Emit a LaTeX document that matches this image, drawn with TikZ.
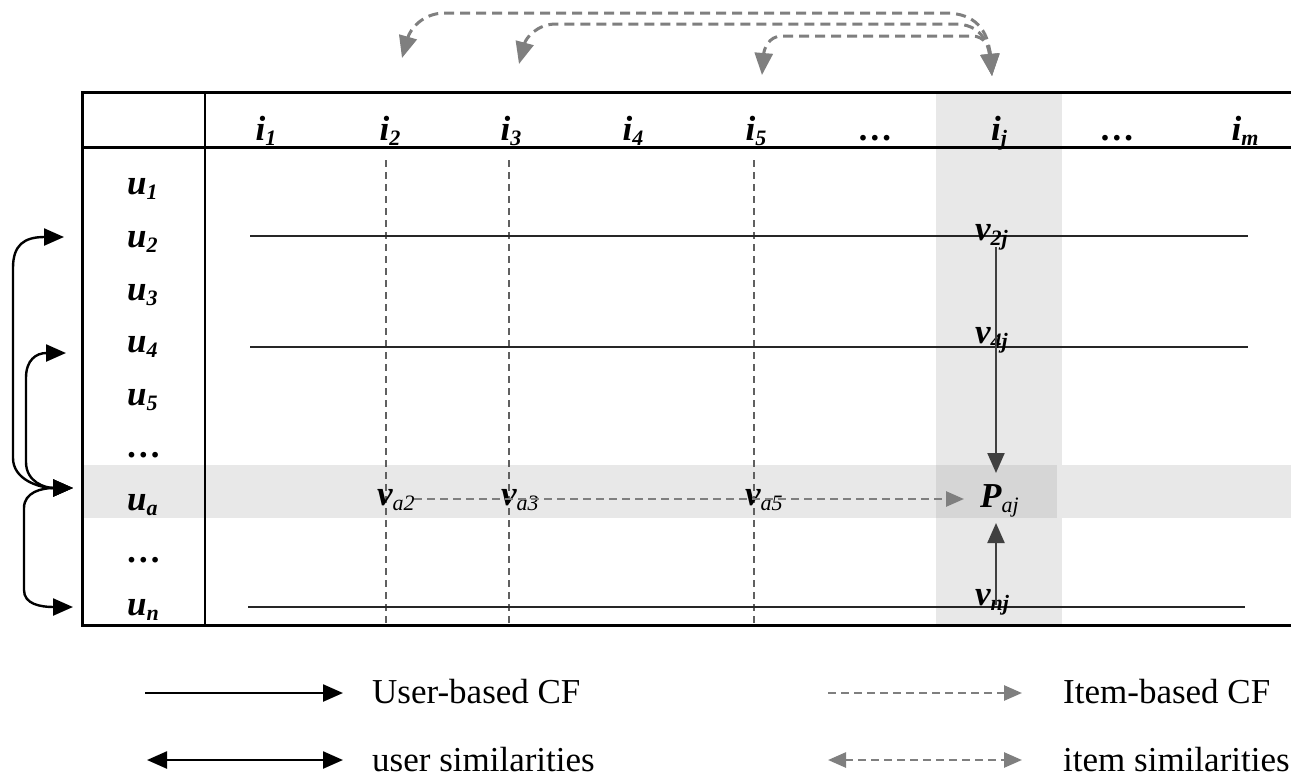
\documentclass[tikz,border=0pt]{standalone}
\usepackage{fontspec}
\setmainfont{Liberation Serif}
\usetikzlibrary{arrows.meta}

\definecolor{hl}{HTML}{E8E8E8}
\definecolor{hlx}{HTML}{D6D6D6}
\definecolor{simgray}{HTML}{7F7F7F}
\definecolor{gridgray}{HTML}{606060}
\definecolor{flowdark}{HTML}{404040}

% lowered, smaller index text
\newcommand{\lsub}[1]{\raisebox{-5pt}{\fontsize{22}{22}\selectfont #1}}

\tikzset{
  lbl/.style={font=\fontsize{35}{37}\selectfont\bfseries\itshape, inner sep=0pt, anchor=base},
  rowlbl/.style={lbl, anchor=base west},
  leg/.style={font=\fontsize{35}{38}\selectfont, inner sep=0pt, anchor=base west},
  frame/.style={line width=3pt, black},
  rowline/.style={line width=2.2pt, black!85},
  colline/.style={line width=1.4pt, gridgray, dash pattern=on 7pt off 5pt},
  bigtip/.style={Triangle[length=20pt,width=17pt]},
  usertip/.style={-{Triangle[length=20pt,width=17pt]}},
  userflow/.style={line width=2.2pt, flowdark, -{Triangle[length=20pt,width=17pt]}},
  usersim/.style={line width=2.4pt, black, {Triangle[length=20pt,width=17pt]}-{Triangle[length=20pt,width=17pt]}},
  itemflow/.style={line width=2.6pt, simgray, dash pattern=on 8pt off 5pt, -{Triangle[length=18pt,width=15pt]}},
  itemsim/.style={line width=3pt, simgray, dash pattern=on 10pt off 6pt, {Triangle[length=22pt,width=18pt]}-{Triangle[length=22pt,width=18pt]}},
}

\begin{document}
\begin{tikzpicture}[x=1pt,y=-1pt]
\useasboundingbox (0,0) rectangle (1291,777);

% highlighted target column and active user row
\fill[hl] (936,92) rectangle (1062,625);
\fill[hl] (82,465) rectangle (1291,518);
\fill[hlx] (936,465) rectangle (1057,518);

% rating matrix frame
\draw[frame] (1291,92) -- (82,92) -- (82,625) -- (1291,625);
\draw[frame] (82,147) -- (1291,147);
\draw[line width=2.4pt] (205,92) -- (205,625);

% item columns used by item-based CF
\draw[colline] (386,160) -- (386,625);
\draw[colline] (509,160) -- (509,625);
\draw[colline] (754,160) -- (754,625);

% user rows used by user-based CF
\draw[rowline] (250,236) -- (1248,236);
\draw[rowline] (250,347) -- (1248,347);
\draw[rowline] (248,607) -- (1245,607);

% column headers
\node[lbl] (i1) at (266,140) {i\lsub{1}};
\node[lbl] (i2) at (390,140) {i\lsub{2}};
\node[lbl] (i3) at (511,140) {i\lsub{3}};
\node[lbl] (i4) at (633,140) {i\lsub{4}};
\node[lbl] (i5) at (756,140) {i\lsub{5}};
\node[lbl] (idots1) at (876,140) {\dots};
\node[lbl] (ij) at (999,140) {i\lsub{j}};
\node[lbl] (idots2) at (1118,140) {\dots};
\node[lbl] (im) at (1245,140) {i\lsub{m}};

% row headers
\node[rowlbl] (u1) at (127,194) {u\lsub{1}};
\node[rowlbl] (u2) at (127,247) {u\lsub{2}};
\node[rowlbl] (u3) at (127,300) {u\lsub{3}};
\node[rowlbl] (u4) at (127,352) {u\lsub{4}};
\node[rowlbl] (u5) at (127,405) {u\lsub{5}};
\node[rowlbl] (udots1) at (127,457) {\dots};
\node[rowlbl] (ua) at (127,510) {u\lsub{a}};
\node[rowlbl] (udots2) at (127,562) {\dots};
\node[rowlbl] (un) at (127,615) {u\lsub{n}};

% known ratings
\node[rowlbl] (v2j) at (975,240) {v\lsub{2j}};
\node[rowlbl] (v4j) at (975,343) {v\lsub{4j}};
\node[rowlbl] (vnj) at (975,605) {v\lsub{nj}};
\node[rowlbl] (va2) at (377,505) {v\lsub{\mdseries a2}};
\node[rowlbl] (va3) at (501,505) {v\lsub{\mdseries a3}};
\node[rowlbl] (va5) at (745,505) {v\lsub{\mdseries a5}};
\node[rowlbl] (Paj) at (980,507) {P\lsub{\mdseries aj}};

% user-based flow into the prediction
\coordinate (d2) at (996,247);
\coordinate (dtop) at (996,473);
\coordinate (dn) at (996,605);
\coordinate (dbot) at (996,523);
\draw[userflow] (d2) -- (dtop);
\draw[userflow] (dn) -- (dbot);

% item-based flow into the prediction
\coordinate (ha) at (414,499);
\coordinate (hb) at (964,499);
\draw[itemflow] (ha) -- (hb);

% user similarities
\coordinate (su2) at (64,237);
\coordinate (su4) at (66,353);
\coordinate (sua) at (73,488);
\coordinate (sun) at (73,607);
\draw[usersim] (su2) .. controls (24,237) and (13,245) .. (13,268) -- (13,458)
  .. controls (13,480) and (40,488) .. (sua);
\draw[usersim] (su4) .. controls (36,353) and (26,360) .. (26,378) -- (26,462)
  .. controls (26,482) and (45,488) .. (sua);
\draw[usersim] (sua) .. controls (42,488) and (24,492) .. (24,508) -- (24,590)
  .. controls (24,604) and (40,607) .. (sun);

% item similarities
\coordinate (sj) at (992,76);
\coordinate (s2) at (402,58);
\coordinate (s3) at (519,64);
\coordinate (s5) at (762,75);
\draw[itemsim] (sj) .. controls (988,30) and (975,13) .. (945,13) -- (445,13)
  .. controls (422,13) and (410,30) .. (s2);
\draw[itemsim] (sj) .. controls (988,42) and (980,24) .. (955,24) -- (556,24)
  .. controls (537,24) and (526,38) .. (s3);
\draw[itemsim] (sj) .. controls (990,48) and (985,36) .. (972,36) -- (782,36)
  .. controls (768,36) and (764,50) .. (s5);

% legend
\coordinate (l1a) at (145,693);
\coordinate (l1b) at (343,693);
\coordinate (l2a) at (147,760);
\coordinate (l2b) at (343,760);
\coordinate (l3a) at (828,693);
\coordinate (l3b) at (1022,693);
\coordinate (l4a) at (828,760);
\coordinate (l4b) at (1022,760);
\draw[line width=2.4pt, black, usertip] (l1a) -- (l1b);
\draw[usersim] (l2a) -- (l2b);
\draw[itemflow] (l3a) -- (l3b);
\draw[itemsim, line width=2.6pt, dash pattern=on 8pt off 5pt, {Triangle[length=18pt,width=15pt]}-{Triangle[length=18pt,width=15pt]}] (l4a) -- (l4b);
\node[leg] (t1) at (372,703) {User-based CF};
\node[leg] (t2) at (372,771) {user similarities};
\node[leg] (t3) at (1063,703) {Item-based CF};
\node[leg] (t4) at (1063,771) {item similarities};
\end{tikzpicture}
\end{document}
